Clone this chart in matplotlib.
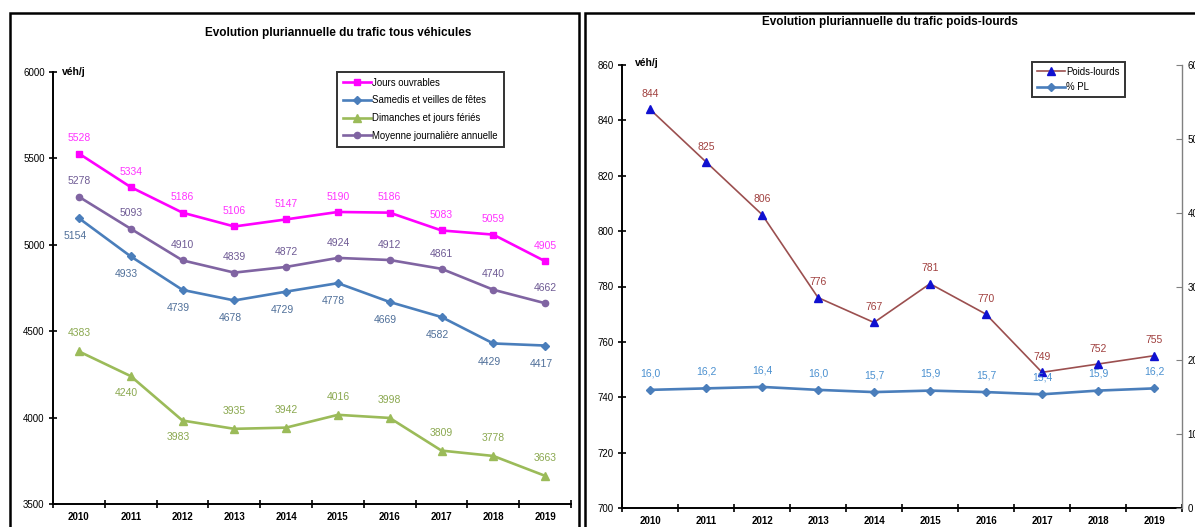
import matplotlib
matplotlib.use('Agg')
import matplotlib.pyplot as plt
from matplotlib.patches import Rectangle
import numpy as np

plt.rcParams['font.family'] = ['Liberation Sans', 'DejaVu Sans']

# data
years = ['2010', '2011', '2012', '2013', '2014', '2015', '2016', '2017', '2018', '2019']
jours_ouvrables = [5528, 5334, 5186, 5106, 5147, 5190, 5186, 5083, 5059, 4905]
samedis = [5154, 4933, 4739, 4678, 4729, 4778, 4669, 4582, 4429, 4417]
dimanches = [4383, 4240, 3983, 3935, 3942, 4016, 3998, 3809, 3778, 3663]
moyenne = [5278, 5093, 4910, 4839, 4872, 4924, 4912, 4861, 4740, 4662]

poids_lourds = [844, 825, 806, 776, 767, 781, 770, 749, 752, 755]
pct_pl = [16.0, 16.2, 16.4, 16.0, 15.7, 15.9, 15.7, 15.4, 15.9, 16.2]

W, H = 1195.0, 527.0
fig = plt.figure(figsize=(W / 100, H / 100), dpi=100)
x = np.arange(len(years))


def px_axes(x0, y0, x1, y1):
    # pixel box -> figure fraction
    return [x0 / W, 1 - y1 / H, (x1 - x0) / W, (y1 - y0) / H]


def style_axes(ax):
    ax.spines['top'].set_visible(False)
    ax.spines['right'].set_visible(False)
    ax.spines['left'].set_linewidth(1.4)
    ax.spines['bottom'].set_linewidth(1.4)
    ax.set_xlim(-0.5, len(years) - 0.5)
    ax.set_xticks(x)
    ax.set_xticklabels(years, fontsize=7, fontweight='bold')
    ax.tick_params(axis='x', which='major', length=0, pad=6)
    ax.set_xticks(np.arange(len(years) + 1) - 0.5, minor=True)
    ax.tick_params(axis='x', which='minor', direction='inout', length=6, width=1.2)
    ax.tick_params(axis='y', direction='inout', length=6, width=1.2, labelsize=7, pad=3)


def put_labels(ax, vals, color, dy, dx=0, texts=None, below=()):
    if texts is None:
        texts = [str(v) for v in vals]
    for i, v in enumerate(vals):
        oy = dy
        ox = dx
        if i in below:
            oy = -12
            ox = -3
        ax.annotate(texts[i], (i, v), xytext=(ox, oy), textcoords='offset points',
                    ha='center', va='center', fontsize=7.5, color=color)


# panel frames
fig.add_artist(Rectangle((10 / W, -0.05), 569 / W, 1.05 - 13 / H, transform=fig.transFigure,
                         fill=False, edgecolor='black', linewidth=1.8))
fig.add_artist(Rectangle((585 / W, -0.05), 700 / W, 1.05 - 13 / H, transform=fig.transFigure,
                         fill=False, edgecolor='black', linewidth=1.8))

# left: all vehicles
ax1 = fig.add_axes(px_axes(53, 72, 571, 504))
style_axes(ax1)
ax1.set_ylim(3500, 6000)
ax1.set_yticks([3500, 4000, 4500, 5000, 5500, 6000])

c_jo, c_sa, c_di, c_mo = '#ff00ff', '#4a7ebb', '#9bbb59', '#8064a2'
ax1.plot(x, jours_ouvrables, color=c_jo, lw=1.9, marker='s', ms=5, label='Jours ouvrables')
ax1.plot(x, samedis, color=c_sa, lw=1.9, marker='D', ms=4.5, label='Samedis et veilles de fêtes')
ax1.plot(x, dimanches, color=c_di, lw=1.9, marker='^', ms=6, label='Dimanches et jours fériés')
ax1.plot(x, moyenne, color=c_mo, lw=1.9, marker='o', ms=4.5, label='Moyenne journalière annuelle')

put_labels(ax1, jours_ouvrables, '#ff33ff', 11)
put_labels(ax1, samedis, '#4f6f99', -13, dx=-3)
put_labels(ax1, dimanches, '#8aa84f', 13, below=(1, 2))
put_labels(ax1, moyenne, '#6e5a94', 11)

leg = ax1.legend(loc='upper left', bbox_to_anchor=(0.548, 1.0), fontsize=6.9, fancybox=False,
                 edgecolor='black', handlelength=3, handletextpad=0.1, labelspacing=0.8,
                 borderpad=0.6, borderaxespad=0)
leg.get_frame().set_linewidth(1.4)

fig.text(338 / W, 1 - 33 / H, 'Evolution pluriannuelle du trafic tous véhicules',
         ha='center', va='center', fontsize=8.5, fontweight='bold')
fig.text(62 / W, 1 - 72 / H, 'véh/j', ha='left', va='center', fontsize=7.5, fontweight='bold')

# right: heavy vehicles
ax2 = fig.add_axes(px_axes(622, 65, 1182, 508))
style_axes(ax2)
ax2.set_ylim(700, 860)
ax2.set_yticks(np.arange(700, 861, 20))

ax3 = ax2.twinx()
ax3.set_ylim(0, 60)
ax3.set_yticks(np.arange(0, 61, 10))
for s in ['top', 'left', 'bottom']:
    ax3.spines[s].set_visible(False)
ax3.spines['right'].set_color('#808080')
ax3.spines['right'].set_linewidth(1.0)
ax3.tick_params(axis='y', direction='in', length=4, color='#808080', labelsize=7, pad=4)

l2, = ax2.plot(x, poids_lourds, color='#9b4f4f', lw=1.2, marker='^', ms=5.5,
               mfc='#1010d0', mec='#1010d0', label='Poids-lourds')
l3, = ax3.plot(x, pct_pl, color='#4a7ebb', lw=1.9, marker='D', ms=4.5, label='% PL')

put_labels(ax2, poids_lourds, '#a0403f', 11)
put_labels(ax3, pct_pl, '#4a90d0', 12,
           texts=[f'{v:.1f}'.replace('.', ',') for v in pct_pl])

leg2 = ax3.legend(handles=[l2, l3], loc='upper left', bbox_to_anchor=(0.732, 1.007), fontsize=6.9,
                  fancybox=False, edgecolor='black', handlelength=3, handletextpad=0.1,
                  labelspacing=0.6, borderpad=0.5, borderaxespad=0)
leg2.get_frame().set_linewidth(1.4)

fig.text(890 / W, 1 - 22 / H, 'Evolution pluriannuelle du trafic poids-lourds',
         ha='center', va='center', fontsize=8.5, fontweight='bold')
fig.text(635 / W, 1 - 63 / H, 'véh/j', ha='left', va='center', fontsize=7.5, fontweight='bold')

fig.savefig('out.png', dpi=100)
